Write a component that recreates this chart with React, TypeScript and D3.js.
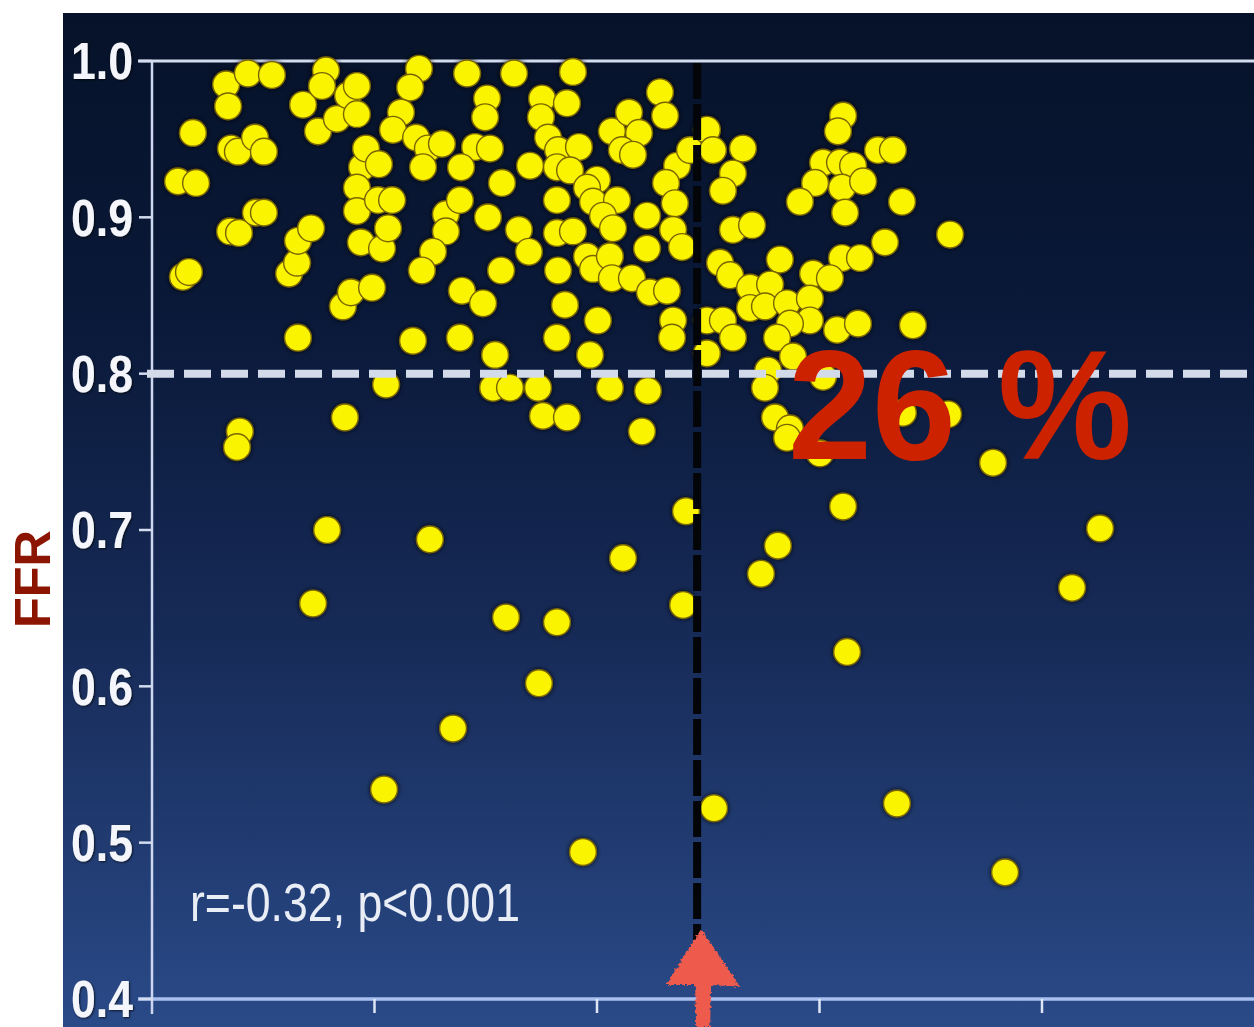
import React from 'react';
import * as d3 from 'd3';

// Scatter of FFR against the lesion measure on the horizontal axis
const dotX = [
  1.17, 1.98, 1.84, 1.39, 1.66, 3.33, 4.31, 5.39, 3.42, 3.55,
  3.86, 4.63, 5.03, 3.51, 3.91, 4.67, 5.03, 3.95, 3.82, 6.56,
  6.16, 6.52, 6.56, 7.15, 7.24, 7.87, 6.79, 7.82, 7.64, 7.46,
  8.31, 8.81, 9.21, 9.21, 8.67, 10.52, 11.73, 8.58, 8.94, 9.89,
  9.44, 9.62, 10.2, 9.21, 9.21, 10.16, 10.79, 9.39, 10.34, 10.61,
  12.0, 11.6, 11.19, 10.83, 11.87, 12.4, 12.18, 13.03, 13.21, 13.21,
  12.63, 12.13, 10.43, 12.49, 13.53,
  14.16, 16.27, 18.92, 15.06, 14.97, 17.53, 18.65, 17.48, 17.8, 18.25,
  19.19, 18.2, 18.79, 20.67, 21.44, 21.89, 21.12, 21.62, 22.83, 23.06,
  14.52, 15.19, 13.89, 16.99, 15.73, 20.0, 19.55, 19.82, 20.9, 20.27,
  20.72, 13.84, 15.1, 18.2, 16.49, 16.94, 18.2, 18.92, 22.25, 22.25,
  23.6, 23.1, 23.5, 23.42, 23.82, 24.18, 15.69, 18.25, 19.55, 19.82,
  20.58, 20.67, 21.57, 22.38, 23.15, 13.93, 14.88, 18.56, 20.04, 23.42,
  23.37, 13.84, 18.2, 15.42, 19.69, 15.33, 16.09, 17.35, 20.58, 22.29,
  17.57, 18.65, 22.02, 24.0, 21.17, 23.87, 15.91, 18.2, 17.39, 19.37,
  24.94, 25.21, 26.56, 26.11, 25.66, 26.11, 26.97, 31.06, 30.83, 32.63,
  33.3, 30.16, 30.92, 31.51, 29.8, 29.12, 31.01, 31.96, 31.15, 33.71,
  35.87, 32.94, 31.01, 31.82, 29.71, 30.47, 28.22, 25.53, 25.98, 26.88,
  27.78, 26.88, 27.55, 28.54, 29.57, 29.57, 28.67, 28.09, 28.81, 27.69,
  27.55, 30.79, 31.73, 34.2, 24.94, 25.66, 26.11, 24.94, 30.16, 28.0,
  28.67, 28.54, 30.02, 33.75, 35.78, 25.26, 28.13, 27.37, 31.06, 31.24,
  33.48, 37.8, 38.34, 41.35, 42.61,
];

const dotFFR = [
  0.923, 0.922, 0.954, 0.862, 0.865, 0.985, 0.992, 0.991, 0.971, 0.944,
  0.942, 0.951, 0.942, 0.891, 0.89, 0.903, 0.903, 0.763, 0.753, 0.823,
  0.864, 0.871, 0.885, 0.893, 0.653, 0.7, 0.972, 0.994, 0.984, 0.955,
  0.963, 0.978, 0.984, 0.966, 0.772, 0.793, 0.821, 0.843, 0.852, 0.855,
  0.932, 0.944, 0.934, 0.919, 0.904, 0.911, 0.911, 0.884, 0.88, 0.893,
  0.995, 0.983, 0.967, 0.956, 0.951, 0.944, 0.932, 0.947, 0.902, 0.891,
  0.878, 0.866, 0.534, 0.694, 0.573,
  0.992, 0.992, 0.993, 0.976, 0.964, 0.976, 0.973, 0.964, 0.951, 0.943,
  0.945, 0.932, 0.93, 0.955, 0.967, 0.954, 0.943, 0.94, 0.98, 0.965,
  0.945, 0.944, 0.932, 0.933, 0.922, 0.924, 0.919, 0.91, 0.911, 0.901,
  0.893, 0.911, 0.9, 0.911, 0.892, 0.878, 0.89, 0.891, 0.901, 0.88,
  0.933, 0.922, 0.909, 0.892, 0.881, 0.943, 0.866, 0.866, 0.875, 0.867,
  0.875, 0.861, 0.861, 0.852, 0.853, 0.853, 0.845, 0.844, 0.834, 0.834,
  0.823, 0.823, 0.823, 0.812, 0.812, 0.791, 0.791, 0.791, 0.791, 0.789,
  0.773, 0.772, 0.763, 0.712, 0.682, 0.652, 0.644, 0.641, 0.602, 0.494,
  0.956, 0.943, 0.944, 0.928, 0.917, 0.892, 0.895, 0.965, 0.955, 0.943,
  0.943, 0.935, 0.935, 0.933, 0.922, 0.91, 0.919, 0.923, 0.903, 0.91,
  0.889, 0.884, 0.874, 0.874, 0.864, 0.861, 0.873, 0.871, 0.863, 0.855,
  0.857, 0.842, 0.843, 0.845, 0.848, 0.834, 0.832, 0.823, 0.811, 0.802,
  0.791, 0.828, 0.832, 0.831, 0.834, 0.834, 0.823, 0.813, 0.798, 0.772,
  0.765, 0.759, 0.749, 0.775, 0.774, 0.522, 0.69, 0.672, 0.715, 0.622,
  0.525, 0.743, 0.481, 0.663, 0.701,
];

const ffrTicks = [0.4, 0.5, 0.6, 0.7, 0.8, 0.9, 1.0];
const xTicks = [10, 20, 30, 40];
const ffrCutoff = 0.8;
const xCutoff = 24.5;
const shareLabel = '26 %';
const statsLabel = 'r=-0.32, p<0.001';
const yTitle = 'FFR';

const W = 1254;
const H = 1027;

export default function App() {
  const x = d3.scaleLinear().domain([0, 50]).range([152, 1264.5]);
  const y = d3.scaleLinear().domain([0.4, 1.0]).range([999, 61]);
  const fmt = d3.format('.1f');
  const points = dotX.map((v, i) => ({ x: v, ffr: dotFFR[i] }));

  const x0 = x(0);
  const arrowX = x(xCutoff) + 6;
  const arrowPath = d3.path();
  arrowPath.moveTo(arrowX - 2, 929);
  arrowPath.lineTo(arrowX + 37, 987);
  arrowPath.lineTo(arrowX + 8, 985);
  arrowPath.lineTo(arrowX + 7, 1027);
  arrowPath.lineTo(arrowX - 7, 1027);
  arrowPath.lineTo(arrowX - 8, 985);
  arrowPath.lineTo(arrowX - 37, 985);
  arrowPath.closePath();

  return (
    <svg
      width={W}
      height={H}
      style={{ position: 'absolute', left: 0, top: 0, background: '#ffffff' }}
    >
      <defs>
        <linearGradient id="panelFill" x1="0" y1="0" x2="0" y2="1">
          <stop offset="0" stopColor="#061229" />
          <stop offset="0.3" stopColor="#0a1939" />
          <stop offset="0.62" stopColor="#172b58" />
          <stop offset="1" stopColor="#2a4a88" />
        </linearGradient>
        <filter id="dotGlow" x="-10%" y="-10%" width="120%" height="120%">
          <feGaussianBlur in="SourceAlpha" stdDeviation="2.6" result="blur" />
          <feFlood floodColor="#000510" floodOpacity="0.85" />
          <feComposite in2="blur" operator="in" result="shadow" />
          <feMerge>
            <feMergeNode in="shadow" />
            <feMergeNode in="SourceGraphic" />
          </feMerge>
        </filter>
        <filter id="labelShadow" x="-20%" y="-20%" width="140%" height="140%">
          <feDropShadow dx="1" dy="1" stdDeviation="1.2" floodColor="#000000" floodOpacity="0.7" />
        </filter>
        <filter id="rough" x="-20%" y="-20%" width="140%" height="140%">
          <feTurbulence type="fractalNoise" baseFrequency="0.35" numOctaves="2" seed="4" />
          <feDisplacementMap in="SourceGraphic" scale="5" xChannelSelector="R" yChannelSelector="G" />
        </filter>
      </defs>

      {/* y-axis title */}
      <text
        transform="translate(50,579) rotate(-90)"
        textAnchor="middle"
        fontFamily="Liberation Sans, Arial, sans-serif"
        fontWeight="bold"
        fontSize={50}
        fill="#8b1500"
        textLength={98}
        lengthAdjust="spacingAndGlyphs"
      >
        {yTitle}
      </text>

      {/* plot panel */}
      <rect x={63} y={13} width={W - 63} height={H - 13} fill="url(#panelFill)" />

      {/* frame lines */}
      <line x1={138} x2={W} y1={y(1.0)} y2={y(1.0)} stroke="#d4dcef" strokeWidth={3} />
      <line x1={138} x2={W} y1={y(0.4)} y2={y(0.4)} stroke="#a9c0ee" strokeWidth={3.5} />
      <line x1={x0} x2={x0} y1={y(1.0)} y2={1014} stroke="#cdd7ef" strokeWidth={2.5} />

      {/* y ticks and labels */}
      {ffrTicks.map((t) => (
        <g key={t}>
          <line x1={139} x2={x0} y1={y(t)} y2={y(t)} stroke="#d4dcef" strokeWidth={2.5} />
          <text
            x={133}
            y={y(t)}
            dy="0.35em"
            textAnchor="end"
            fontFamily="Liberation Sans, Arial, sans-serif"
            fontWeight="bold"
            fontSize={52}
            fill="#f4f6fb"
            textLength={62}
            lengthAdjust="spacingAndGlyphs"
            filter="url(#labelShadow)"
          >
            {fmt(t)}
          </text>
        </g>
      ))}

      {/* x ticks */}
      {xTicks.map((t) => (
        <line key={t} x1={x(t)} x2={x(t)} y1={y(0.4)} y2={1013} stroke="#dfe6f6" strokeWidth={2.5} />
      ))}

      {/* data points */}
      <g filter="url(#dotGlow)">
        {points.map((p, i) => (
          <circle
            key={i}
            cx={x(p.x)}
            cy={y(p.ffr)}
            r={13.4}
            fill="#fbf400"
            stroke="#7a6600"
            strokeWidth={1.4}
          />
        ))}
      </g>

      {/* FFR cutoff */}
      <line
        x1={147}
        x2={W}
        y1={y(ffrCutoff)}
        y2={y(ffrCutoff)}
        stroke="#d3daea"
        strokeWidth={8}
        strokeDasharray="27,10"
      />

      {/* x cutoff */}
      <line
        x1={x(xCutoff)}
        x2={x(xCutoff)}
        y1={y(1.0) + 2}
        y2={945}
        stroke="#030508"
        strokeWidth={8}
        strokeDasharray="36,5"
      />

      {/* statistics */}
      <text
        x={190}
        y={921}
        fontFamily="Liberation Sans, Arial, sans-serif"
        fontSize={54}
        fill="#e9edf6"
        textLength={330}
        lengthAdjust="spacingAndGlyphs"
      >
        {statsLabel}
      </text>

      {/* share of lesions annotation */}
      <text
        x={788}
        y={459}
        fontFamily="Liberation Sans, Arial, sans-serif"
        fontWeight="bold"
        fontSize={156}
        fill="#cc2200"
        textLength={344}
        lengthAdjust="spacingAndGlyphs"
      >
        {shareLabel}
      </text>

      {/* arrow marking the cutoff */}
      <path d={arrowPath.toString()} fill="#ee5a4c" filter="url(#rough)" />
    </svg>
  );
}
